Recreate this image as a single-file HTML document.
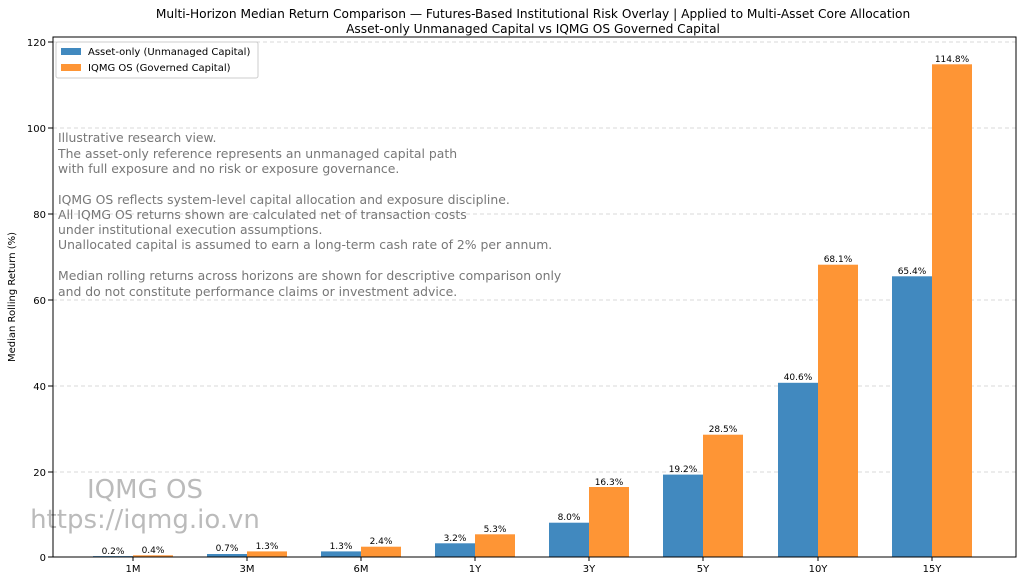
<!DOCTYPE html>
<html><head><meta charset="utf-8"><style>body{margin:0;background:#fff}</style></head><body>
<svg width="1024" height="582" xmlns="http://www.w3.org/2000/svg" font-family="DejaVu Sans, Liberation Sans, sans-serif">
<rect width="1024" height="582" fill="#fff"/>
<text x="533" y="18" font-size="12.2" text-anchor="middle">Multi-Horizon Median Return Comparison — Futures-Based Institutional Risk Overlay | Applied to Multi-Asset Core Allocation</text>
<text x="533" y="33" font-size="12.2" text-anchor="middle">Asset-only Unmanaged Capital vs IQMG OS Governed Capital</text>
<g stroke="#ccc" stroke-dasharray="4,3" stroke-width="0.8">
<line x1="53" x2="1016" y1="42" y2="42"/><line x1="53" x2="1016" y1="128" y2="128"/><line x1="53" x2="1016" y1="214" y2="214"/><line x1="53" x2="1016" y1="300" y2="300"/><line x1="53" x2="1016" y1="386" y2="386"/><line x1="53" x2="1016" y1="472" y2="472"/>
</g>
<g font-size="10" text-anchor="end">
<text x="46" y="561">0</text><text x="46" y="476">20</text><text x="46" y="390">40</text><text x="46" y="304">60</text><text x="46" y="218">80</text><text x="46" y="132">100</text><text x="46" y="46">120</text>
</g>
<g stroke="#000"><line x1="48" x2="53" y1="557" y2="557"/><line x1="48" x2="53" y1="472" y2="472"/><line x1="48" x2="53" y1="386" y2="386"/><line x1="48" x2="53" y1="300" y2="300"/><line x1="48" x2="53" y1="214" y2="214"/><line x1="48" x2="53" y1="128" y2="128"/><line x1="48" x2="53" y1="42" y2="42"/></g>
<text transform="translate(15,297) rotate(-90)" font-size="10" text-anchor="middle">Median Rolling Return (%)</text>
<g font-size="12.4" fill="#777">
<text x="58" y="142">Illustrative research view.</text>
<text x="58" y="158">The asset-only reference represents an unmanaged capital path</text>
<text x="58" y="173">with full exposure and no risk or exposure governance.</text>
<text x="58" y="204">IQMG OS reflects system-level capital allocation and exposure discipline.</text>
<text x="58" y="219">All IQMG OS returns shown are calculated net of transaction costs</text>
<text x="58" y="234">under institutional execution assumptions.</text>
<text x="58" y="249">Unallocated capital is assumed to earn a long-term cash rate of 2% per annum.</text>
<text x="58" y="280">Median rolling returns across horizons are shown for descriptive comparison only</text>
<text x="58" y="296">and do not constitute performance claims or investment advice.</text>
</g>
<g font-size="26" fill="#bbb" text-anchor="middle">
<text x="145" y="498">IQMG OS</text><text x="145" y="528">https://iqmg.io.vn</text>
</g>
<g fill="#4189bf">
<rect x="93" y="556.1" width="40" height="0.9"/><rect x="207" y="554" width="40" height="3"/><rect x="321" y="551.4" width="40" height="5.6"/><rect x="435" y="543.3" width="40" height="13.7"/><rect x="549" y="522.7" width="40" height="34.3"/><rect x="663" y="474.6" width="40" height="82.4"/><rect x="778" y="382.8" width="40" height="174.2"/><rect x="892" y="276.3" width="40" height="280.7"/>
</g>
<g fill="#fe9535">
<rect x="133" y="555.3" width="40" height="1.7"/><rect x="247" y="551.4" width="40" height="5.6"/><rect x="361" y="546.7" width="40" height="10.3"/><rect x="475" y="534.3" width="40" height="22.7"/><rect x="589" y="487" width="40" height="70"/><rect x="703" y="434.7" width="40" height="122.3"/><rect x="818" y="264.7" width="40" height="292.3"/><rect x="932" y="64.3" width="40" height="492.7"/>
</g>
<g font-size="9" text-anchor="middle">
<text x="113" y="554">0.2%</text><text x="153" y="553">0.4%</text>
<text x="227" y="551">0.7%</text><text x="267" y="549">1.3%</text>
<text x="341" y="549">1.3%</text><text x="381" y="544">2.4%</text>
<text x="455" y="541">3.2%</text><text x="495" y="532">5.3%</text>
<text x="569" y="520">8.0%</text><text x="609" y="485">16.3%</text>
<text x="683" y="472">19.2%</text><text x="723" y="432">28.5%</text>
<text x="798" y="380">40.6%</text><text x="838" y="262">68.1%</text>
<text x="912" y="274">65.4%</text><text x="952" y="62">114.8%</text>
</g>
<rect x="53" y="37" width="963" height="520" fill="none" stroke="#000" stroke-width="1"/>
<g font-size="10" text-anchor="middle">
<text x="133" y="572">1M</text><text x="247" y="572">3M</text><text x="361" y="572">6M</text><text x="475" y="572">1Y</text><text x="589" y="572">3Y</text><text x="703" y="572">5Y</text><text x="818" y="572">10Y</text><text x="932" y="572">15Y</text>
</g>
<g stroke="#000"><line x1="133" x2="133" y1="557" y2="561"/><line x1="247" x2="247" y1="557" y2="561"/><line x1="361" x2="361" y1="557" y2="561"/><line x1="475" x2="475" y1="557" y2="561"/><line x1="589" x2="589" y1="557" y2="561"/><line x1="703" x2="703" y1="557" y2="561"/><line x1="818" x2="818" y1="557" y2="561"/><line x1="932" x2="932" y1="557" y2="561"/></g>
<rect x="56" y="42" width="202" height="36" rx="2" fill="#fff" stroke="#ccc"/>
<rect x="61" y="48" width="20" height="7" fill="#4189bf"/>
<rect x="61" y="64" width="20" height="7" fill="#fe9535"/>
<text x="88" y="55" font-size="10">Asset-only (Unmanaged Capital)</text>
<text x="88" y="71" font-size="10">IQMG OS (Governed Capital)</text>
</svg>
</body></html>
